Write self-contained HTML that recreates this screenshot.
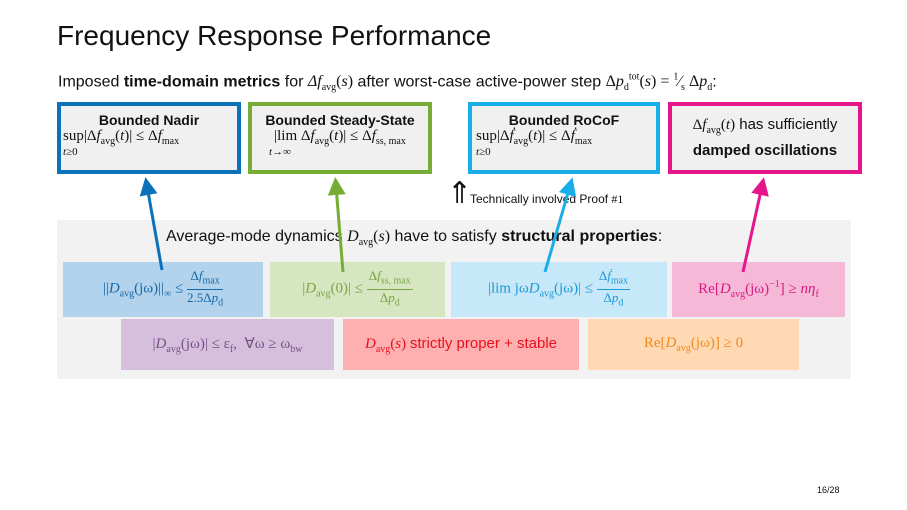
<!DOCTYPE html>
<html><head><meta charset="utf-8"><style>
body{margin:0;width:907px;height:510px;background:#fff;position:relative;overflow:hidden;font-family:"Liberation Sans",sans-serif;color:#111}
.a{position:absolute;white-space:nowrap}
.m{font-family:"Liberation Serif",serif}
.tb{position:absolute;background:#f0f0f0;border:4px solid;box-sizing:border-box;text-align:center;font-size:14px}
.tb b{display:block;margin-top:6px;font-size:14px}
.c{position:absolute;box-sizing:border-box;display:flex;align-items:center;justify-content:center;font-family:"Liberation Serif",serif;font-size:15px}
sub,sup{font-size:10px}
.fr{display:inline-flex;flex-direction:column;vertical-align:middle;text-align:center;font-size:13px;line-height:15px}
.fr>span:first-child{border-bottom:1px solid currentColor;padding:0 2px}
</style></head><body>
<div class="a" style="left:57px;top:20px;font-size:28px">Frequency Response Performance</div>
<div class="a" style="left:58px;top:72px;font-size:16px">Imposed <b>time-domain metrics</b> for <span class="m"><i>Δf</i><sub>avg</sub>(<i>s</i>)</span> after worst-case active-power step <span class="m">Δ<i>p</i><sub>d</sub><sup>tot</sup>(<i>s</i>) = <sup>1</sup>⁄<sub>s</sub> Δ<i>p</i><sub>d</sub></span>:</div>
<div class="tb" style="left:57px;top:102px;width:184px;height:72px;border-color:#0b72b9"><b>Bounded Nadir</b><div class="m" style="font-size:15px;text-align:left;padding-left:2px">sup|Δ<i>f</i><sub>avg</sub>(<i>t</i>)| ≤ Δ<i>f</i><sub>max</sub><br><span style="font-size:11px;position:relative;top:-4px"><i>t</i>≥0</span></div></div>
<div class="tb" style="left:248px;top:102px;width:184px;height:72px;border-color:#78ad35"><b>Bounded Steady-State</b><div class="m" style="font-size:15px">|lim Δ<i>f</i><sub>avg</sub>(<i>t</i>)| ≤ Δ<i>f</i><sub>ss, max</sub><br><span style="font-size:11px;position:relative;top:-4px;left:-60px"><i>t</i>→∞</span></div></div>
<div class="tb" style="left:468px;top:102px;width:192px;height:72px;border-color:#1aaee8"><b>Bounded RoCoF</b><div class="m" style="font-size:15px;text-align:left;padding-left:4px">sup|Δ<i>ḟ</i><sub>avg</sub>(<i>t</i>)| ≤ Δ<i>ḟ</i><sub>max</sub><br><span style="font-size:11px;position:relative;top:-4px"><i>t</i>≥0</span></div></div>
<div class="tb" style="left:668px;top:102px;width:194px;height:72px;border-color:#e5168a;font-size:15px"><div style="margin-top:10px"><span class="m">Δ<i>f</i><sub>avg</sub>(<i>t</i>)</span> has sufficiently</div><div style="font-weight:bold;margin-top:6px">damped oscillations</div></div>
<div class="a" style="left:447px;top:176px;font-size:30px;line-height:36px">⇑</div>
<div class="a" style="left:470px;top:192px;font-size:12px">Technically involved Proof <span class="m">#1</span></div>
<div class="a" style="left:57px;top:220px;width:794px;height:159px;background:#f2f2f2"></div>
<div class="a" style="left:166px;top:228px;font-size:16px">Average-mode dynamics <span class="m"><i>D</i><sub>avg</sub>(<i>s</i>)</span> have to satisfy <b>structural properties</b>:</div>
<div class="c" style="left:63px;top:262px;width:200px;height:55px;background:#b3d3ec;color:#1668a8"><span>||<i>D</i><sub>avg</sub>(jω)||<sub>∞</sub> ≤ <span class="fr"><span>Δ<i>f</i><sub>max</sub></span><span>2.5Δ<i>p</i><sub>d</sub></span></span></span></div>
<div class="c" style="left:270px;top:262px;width:175px;height:55px;background:#d6e6c1;color:#79a545"><span>|<i>D</i><sub>avg</sub>(0)| ≤ <span class="fr"><span>Δ<i>f</i><sub>ss, max</sub></span><span>Δ<i>p</i><sub>d</sub></span></span></span></div>
<div class="c" style="left:451px;top:262px;width:216px;height:55px;background:#c7e8f8;color:#1a9ad6"><span>|lim jω<i>D</i><sub>avg</sub>(jω)| ≤ <span class="fr"><span>Δ<i>ḟ</i><sub>max</sub></span><span>Δ<i>p</i><sub>d</sub></span></span></span></div>
<div class="c" style="left:672px;top:262px;width:173px;height:55px;background:#f6b8d7;color:#d81a84"><span>Re[<i>D</i><sub>avg</sub>(jω)<sup>−1</sup>] ≥ <i>nη</i><sub>f</sub></span></div>
<div class="c" style="left:121px;top:319px;width:213px;height:51px;background:#d6bfdd;color:#7a4f88"><span>|<i>D</i><sub>avg</sub>(jω)| ≤ ε<sub>f</sub>, &nbsp;∀ω ≥ ω<sub>bw</sub></span></div>
<div class="c" style="left:343px;top:319px;width:236px;height:51px;background:#feb0b0;color:#e8101e"><span><i>D</i><sub>avg</sub>(<i>s</i>) <span style="font-family:'Liberation Sans',sans-serif">strictly proper + stable</span></span></div>
<div class="c" style="left:588px;top:319px;width:211px;height:51px;background:#fed9b3;color:#f08a1e"><span>Re[<i>D</i><sub>avg</sub>(jω)] ≥ 0</span></div>
<svg class="a" style="left:0;top:0" width="907" height="510">
<defs>
<marker id="ab" markerWidth="6" markerHeight="6" refX="3" refY="3" orient="auto"><path d="M0,0L6,3L0,6z" fill="#0b72b9"/></marker>
<marker id="ag" markerWidth="6" markerHeight="6" refX="3" refY="3" orient="auto"><path d="M0,0L6,3L0,6z" fill="#78ad35"/></marker>
<marker id="ac" markerWidth="6" markerHeight="6" refX="3" refY="3" orient="auto"><path d="M0,0L6,3L0,6z" fill="#1aaee8"/></marker>
<marker id="ap" markerWidth="6" markerHeight="6" refX="3" refY="3" orient="auto"><path d="M0,0L6,3L0,6z" fill="#e5168a"/></marker>
</defs>
<line x1="162" y1="270" x2="147" y2="186" stroke="#0b72b9" stroke-width="3" marker-end="url(#ab)"/>
<line x1="343" y1="272" x2="336" y2="186" stroke="#78ad35" stroke-width="3" marker-end="url(#ag)"/>
<line x1="545" y1="272" x2="570" y2="186" stroke="#1aaee8" stroke-width="3" marker-end="url(#ac)"/>
<line x1="743" y1="272" x2="762" y2="186" stroke="#e5168a" stroke-width="3" marker-end="url(#ap)"/>
</svg>
<div class="a" style="left:817px;top:485px;font-size:9px">16/28</div>
</body></html>
